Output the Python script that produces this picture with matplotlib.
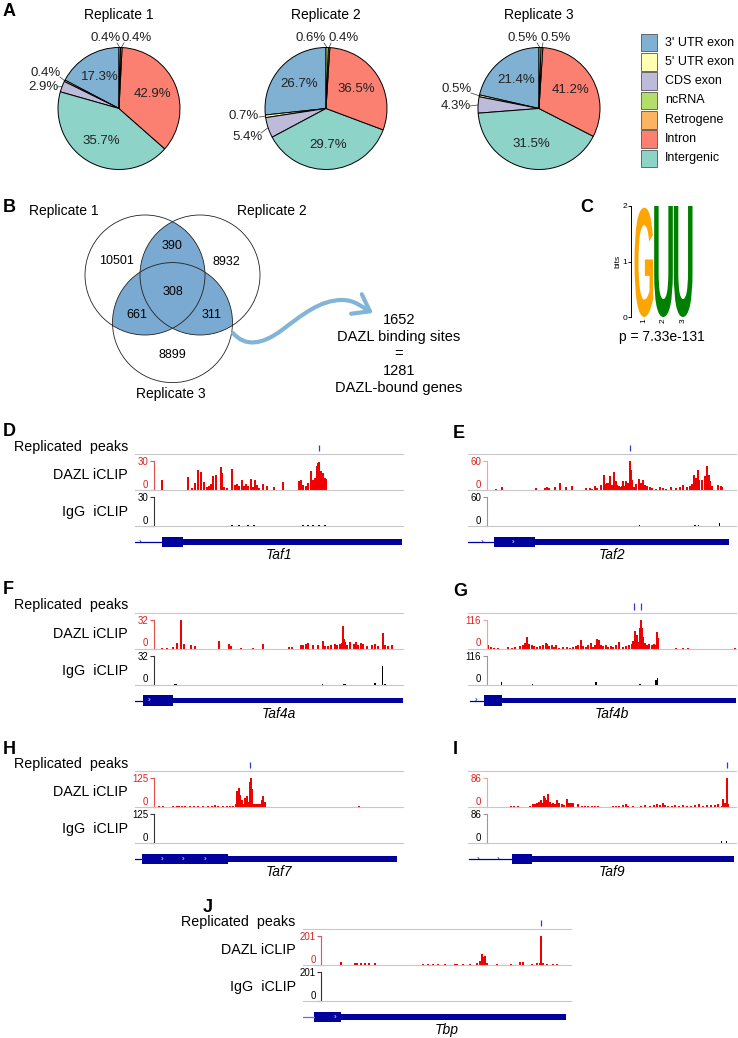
import math
import matplotlib
matplotlib.use('Agg')
import matplotlib.pyplot as plt
from matplotlib.patches import Circle, Rectangle, PathPatch, FancyArrowPatch
from matplotlib.path import Path
from matplotlib.textpath import TextPath
from matplotlib.font_manager import FontProperties
from matplotlib.transforms import Affine2D

plt.rcParams['font.family'] = ['Liberation Sans', 'DejaVu Sans']

W, H = 738, 1038

# ---------------- A: genomic distribution (percent) ----------------
categories = ["3' UTR exon", "5' UTR exon", "CDS exon", "ncRNA", "Retrogene", "Intron", "Intergenic"]
cat_colors = ['#80B1D3', '#FFFFB3', '#BEBADA', '#B3DE69', '#FDB462', '#FB8072', '#8DD3C7']
rep1_pct = [17.3, 0.4, 2.9, 0.4, 0.4, 42.9, 35.7]
rep2_pct = [26.7, 0.7, 5.4, 0.6, 0.4, 36.5, 29.7]
rep3_pct = [21.4, 0.5, 4.3, 0.5, 0.5, 41.2, 31.5]
rep_titles = ['Replicate 1', 'Replicate 2', 'Replicate 3']

# ---------------- B: overlap of binding sites ----------------
venn_names = ['Replicate 1', 'Replicate 2', 'Replicate 3']
venn_only = [10501, 8932, 8899]
venn_12, venn_13, venn_23, venn_123 = 390, 661, 311, 308
n_sites, n_genes = 1652, 1281

# ---------------- C: motif ----------------
motif_letters = ['G', 'U', 'U']
motif_bits = [1.97, 2.0, 2.0]
motif_p = '7.33e-131'

# ---------------- D-J: iCLIP tracks (x = position along locus, y = counts) ----------------
TAF1_MAX = 30
TAF1_DAZL_X = [27, 53, 57, 60, 63, 66, 69, 72, 74, 76, 78, 81, 86, 87, 89, 92, 97, 100, 102, 104,
               107, 109, 111, 113, 116, 118, 120, 122, 124, 128, 132, 139, 148, 164, 166, 168, 171, 173, 176, 178,
               180, 182, 183, 184, 186, 187, 188, 190, 191]
TAF1_DAZL_Y = [10.3, 13, 2, 7.6, 20.7, 19, 8.6, 3, 4, 6, 15, 16, 23.4, 18, 3, 2, 21.7, 5, 6, 4,
               10.3, 4, 6, 4, 11, 3.5, 10.3, 5, 2, 6, 4, 3, 8, 9.7, 10.3, 5, 4, 7, 20, 10.3,
               12, 24.8, 28.3, 29.3, 20, 13.8, 17.2, 12, 11]
TAF1_IGG_X = [97, 104, 113, 119, 168, 173, 178, 184, 190]
TAF1_IGG_Y = [1, 0.8, 0.8, 1, 0.8, 1, 0.8, 1, 1]
TAF1_PEAKS = [184]

TAF2_MAX = 60
TAF2_DAZL_X = [28, 34, 68, 77, 79, 81, 87, 92, 98, 104, 118, 122, 124, 127, 129, 133, 136, 138, 139, 141,
               142, 144, 146, 148, 149, 151, 152, 154, 155, 157, 158, 160, 161.4, 162.4, 164, 166, 168, 171, 173, 175,
               177, 179, 182, 184, 188, 192, 195, 198, 203, 208, 212, 215, 219, 222, 223.4, 225.7, 227.4, 229.4, 231,
               233.4, 236.7, 239, 240.4, 241.7, 243.4, 250, 252.4, 253.7]
TAF2_DAZL_Y = [1.4, 5.6, 3.5, 5, 7, 4, 7, 14, 7, 8.5, 3.5, 4, 3, 8.5, 3.5, 10.6, 31.8, 12.7, 15.5, 14,
               28, 10.6, 36.7, 17.6, 10.6, 8.5, 5.6, 8.5, 17.6, 8.5, 17.6, 14, 60, 41, 21, 7, 12.7, 22.6, 14, 21,
               10.6, 8.5, 5.6, 3.5, 3, 5.6, 4, 3, 5.6, 4, 7, 10, 7, 8.5, 12.7, 31.8, 24.7, 42.4, 21,
               21, 28, 49.4, 31.8, 17.6, 8.5, 10.6, 8.5, 7]
TAF2_IGG_X = [143.4, 150, 155, 160, 171, 226.7, 230, 235, 240, 251]
TAF2_IGG_Y = [1, 1, 1, 1, 1.5, 1.5, 2, 1, 1, 5.5]
TAF2_PEAKS = [161.7]

TAF4A_MAX = 32
TAF4A_DAZL_X = [27.3, 31.7, 38.3, 41.7, 45.7, 49, 55.7, 60, 84.3, 94.3, 95.7, 105.7, 118.3, 128.3, 153.7, 156.7,
                166, 168.3, 171, 173.3, 178.3, 182.7, 187.7, 190, 193.3, 195.7, 200, 202.3, 205, 206.7, 207.7, 209,
                210.3, 211.7, 215, 219, 221, 223.3, 225.7, 228.3, 231.7, 236.7, 240, 243.3, 247.7, 250, 253.3, 256.7]
TAF4A_DAZL_Y = [0.75, 1.1, 1.9, 5.6, 32, 4.5, 3.8, 3, 8.3, 4.9, 3, 0.75, 0.75, 4.5, 1.9, 1.9,
                3.8, 3.8, 4.5, 5.6, 3.8, 3.8, 8.3, 3, 2.6, 3.8, 4.9, 3.8, 4.9, 5.6, 24.5, 10,
                7.5, 3.8, 6.8, 4.9, 7.5, 3.8, 5.6, 4.9, 2.6, 4, 5, 3, 17, 4, 3, 4]
TAF4A_IGG_X = [40, 41.7, 187.7, 208.3, 210, 240, 247.3, 250]
TAF4A_IGG_Y = [0.7, 0.7, 0.7, 0.7, 0.7, 1.8, 20, 1]
TAF4A_PEAKS = []

TAF4B_MAX = 116
TAF4B_DAZL_X = [20, 22.4, 25.7, 30, 40, 43.4, 46.7, 51.7, 54.4, 57, 58.4, 61, 63.4, 65.7, 68.4, 71.7, 75, 77.4,
                79, 81, 83.4, 85.7, 87.7, 91, 95, 99, 101.7, 105, 107.7, 110, 113, 115, 117.7, 120, 122.4, 124.4,
                126.7, 128.4, 130.4, 132.4, 135, 137.7, 140, 142.4, 145, 147.7, 151, 155, 157.7, 161, 163.4, 165,
                166.7, 168.4, 170, 171.7, 172.7, 173.7, 175, 176.7, 179, 181, 183.4, 185.7, 187.7, 188.4, 189.7,
                207.7, 215, 220, 266.7]
TAF4B_DAZL_Y = [13.6, 6.8, 4, 4, 6.8, 4, 6.8, 9.5, 13.6, 20.5, 45, 16.4, 13.6, 9.5, 6.8, 11, 13.6, 23,
                16.4, 9.5, 13.6, 6.8, 13.6, 4, 6.8, 6.8, 4, 6.8, 9.5, 13.6, 34, 9.5, 6.8, 13.6, 20.5, 6.8,
                13.6, 37, 34, 13.6, 9.5, 13.6, 6.8, 9.5, 6.8, 13.6, 27.3, 6.8, 9.5, 13.6, 16.4, 31.4,
                72, 54.6, 27.3, 82, 116, 82, 45, 20.5, 13.6, 16.4, 13.6, 16.4, 13.6, 68, 41,
                4, 4, 4, 4]
TAF4B_IGG_X = [33.4, 64, 127.7, 171.7, 187.7, 189]
TAF4B_IGG_Y = [12, 3, 12, 4, 18, 26]
TAF4B_PEAKS = [166, 172.7]

TAF7_MAX = 125
TAF7_DAZL_X = [24.3, 28.3, 38.3, 41.7, 44.3, 46.7, 50, 55, 59, 63.3, 68.3, 73.3, 76.7, 80, 83.3, 87.7, 91.7, 95,
               97.7, 100.7, 102.3, 103.7, 105, 106.7, 108.3, 110, 111.7, 113.3, 115, 116, 117, 118.3, 120, 121.7,
               123.3, 125, 126.7, 128.3, 130, 224.3]
TAF7_DAZL_Y = [3, 3, 3, 6, 3, 6, 3, 3, 6, 3, 3, 6, 3, 7.6, 6, 3, 3, 4.6,
               3, 15, 68.6, 84, 53, 30.5, 15, 38, 45.7, 23, 107, 125, 76, 15, 12, 15,
               12, 15, 30.5, 48.8, 23, 4.6]
TAF7_IGG_X = [104.3, 173.3]
TAF7_IGG_Y = [1.5, 1.5]
TAF7_PEAKS = [115]

TAF9_MAX = 86
TAF9_DAZL_X = [42.4, 45.7, 50, 61.7, 64.4, 66.7, 69, 71, 72.7, 74.4, 75.7, 77, 78.4, 80, 81.7, 83.4, 85, 87, 89,
               91, 93.4, 95.7, 98.4, 100.4, 102.4, 104.4, 110, 113.4, 116.7, 120, 123.4, 126.7, 130, 144.4, 147.7,
               151, 155, 157.7, 160, 165, 172.4, 176.7, 181.7, 185.7, 189, 191.7, 194.4, 196.7, 200, 203.4, 206.7,
               211, 215, 219, 222.4, 226.7, 231, 235, 239, 242.4, 246.7, 250, 253.4, 255, 257, 258.4, 259.7]
TAF9_DAZL_Y = [4, 2, 4, 4, 8.4, 8.4, 10.5, 15.7, 21, 12.6, 31.5, 26, 21, 38.8, 15.7, 8.4, 10.5, 8.4, 21,
               10.5, 8.4, 5, 23, 10.5, 12.6, 10.5, 8.4, 4, 4, 4, 4, 3, 2, 2, 4,
               4, 5, 8.4, 4, 4, 4, 5, 4, 5, 8.4, 6.3, 10.5, 6.3, 4, 4, 5,
               4, 6.3, 4, 4, 6.3, 8.4, 4, 6.3, 5, 6.3, 8.4, 4, 24, 10.5, 86, 8.4]
TAF9_IGG_X = [78.4, 152.4, 207.7, 238.3, 253.4, 258.4]
TAF9_IGG_Y = [1, 1, 1, 1, 5, 7]
TAF9_PEAKS = [258.4]

TBP_MAX = 201
TBP_DAZL_X = [38.3, 52.3, 54.6, 58, 62.3, 66.6, 72.3, 120.6, 125.6, 130.6, 135.6, 142.3, 152.3, 154, 160.6, 167.3,
              174.6, 177.3, 179, 180.6, 182.3, 184, 194.6, 208, 217.3, 220, 229, 234, 237.3, 238.3, 240, 244.6,
              250, 254.6]
TBP_DAZL_Y = [19, 12, 12, 12, 12, 12, 12, 7, 5, 7, 5, 7, 7, 7, 5, 5,
              16.5, 28, 78, 54, 59, 16.5, 7, 7, 19, 19, 7, 12, 16.5, 201, 12, 7,
              7, 5]
TBP_IGG_X = [240]
TBP_IGG_Y = [3]
TBP_PEAKS = [238]

# gene models: (thin line start, block start, block end, bar end), chevrons in block, arrows on thin line
TAF1_MODEL = ((0, 26.7, 47.7, 267), [], [5])
TAF2_MODEL = ((0, 25.7, 66.7, 261), [44.4], [13.4])
TAF4A_MODEL = ((0, 8.3, 38.3, 268), [14], [])
TAF4B_MODEL = ((1.7, 16, 33.4, 268), [], [8])
TAF7_MODEL = ((0, 6.7, 93.3, 262), [27.3, 48.3, 70], [])
TAF9_MODEL = ((1, 43.4, 64, 265.7), [], [10, 30])
TBP_MODEL = ((0, 11.3, 38.3, 263.3), [32.3], [])

# ---------------- layout ----------------
fig = plt.figure(figsize=(W / 100, H / 100), dpi=100)
ov = fig.add_axes([0, 0, 1, 1])
ov.set_xlim(0, W)
ov.set_ylim(H, 0)
ov.axis('off')


def px_axes(x0, y0, w, h):
    return fig.add_axes([x0 / W, 1 - (y0 + h) / H, w / W, h / H])


for ch, x, y in [('A', 3, 12), ('B', 3, 207), ('C', 580, 207), ('D', 3, 432), ('E', 453, 433),
                 ('F', 3, 590), ('G', 453, 591), ('H', 3, 749), ('I', 453, 749), ('J', 203, 907)]:
    ov.text(x, y, ch, fontsize=13, fontweight='bold', ha='left', va='center')

# ---- A: pies ----
# wedges counter-clockwise from 12 o'clock; the source draws the intron and
# intergenic areas swapped relative to their printed labels, kept as drawn
color_order = [0, 1, 2, 6, 5, 4, 3]
size_order = [0, 1, 2, 5, 6, 4, 3]
PIE_Y, PIE_R = 108.5, 61
pie_cx = [119, 326, 539]
# small-slice labels: category -> (text x, text y, leader start x, leader start y)
small_labels = [
    {3: (106, 38, 117, 43), 4: (137, 38, 124, 43), 1: (46, 73, 60, 77), 2: (43, 87, 57, 87)},
    {3: (311, 38, 324, 43), 4: (344, 38, 331, 43), 1: (244, 116, 259, 117), 2: (248, 137, 261, 133)},
    {3: (523, 38, 537, 43), 4: (556, 38, 543, 43), 1: (457, 89, 471, 93), 2: (456, 106, 470, 106)},
]

for pct, cx, title, smalls in zip([rep1_pct, rep2_pct, rep3_pct], pie_cx, rep_titles, small_labels):
    pad = 3
    ax = px_axes(cx - PIE_R - pad, PIE_Y - PIE_R - pad, 2 * (PIE_R + pad), 2 * (PIE_R + pad))
    wedges, _ = ax.pie([pct[i] for i in size_order], colors=[cat_colors[i] for i in color_order],
                       startangle=90, counterclock=True, radius=1,
                       wedgeprops=dict(edgecolor='black', linewidth=0.7))
    lim = (PIE_R + pad) / PIE_R
    ax.set_xlim(-lim, lim)
    ax.set_ylim(-lim, lim)
    for k, w in enumerate(wedges):
        cat = color_order[k]
        ang = math.radians((w.theta1 + w.theta2) / 2)
        if cat in smalls:
            tx, ty, lx, ly = smalls[cat]
            ov.text(tx, ty, f'{pct[cat]:.1f}%', fontsize=9.5, ha='center', va='center', color='#222222')
            ov.plot([lx, cx + PIE_R * math.cos(ang)], [ly, PIE_Y - PIE_R * math.sin(ang)],
                    color='#333333', lw=0.5)
        else:
            ax.text(0.6 * math.cos(ang), 0.6 * math.sin(ang), f'{pct[cat]:.1f}%',
                    fontsize=9.5, ha='center', va='center', color='#222222')
    ov.text(cx, 15, title, fontsize=10, ha='center', va='center')

for i, name in enumerate(categories):
    y = 33 + 19.3 * i
    ov.add_patch(Rectangle((641, y + 0.8), 16, 17.5, facecolor=cat_colors[i], edgecolor='#555555', lw=0.6))
    ov.text(665, y + 9.5, name, fontsize=9, ha='left', va='center')

# ---- B: venn ----
VENN_R = 60
venn_c = [(145, 275), (200, 275), (172.5, 322.6)]
VENN_BLUE = '#7AAAD2'
for i, j in [(0, 1), (0, 2), (1, 2)]:
    p = Circle(venn_c[j], VENN_R, facecolor=VENN_BLUE, edgecolor='none')
    ov.add_patch(p)
    p.set_clip_path(Circle(venn_c[i], VENN_R, transform=ov.transData))
for c in venn_c:
    ov.add_patch(Circle(c, VENN_R, facecolor='none', edgecolor='#222222', lw=0.6))
c1, c2, c3 = venn_c
venn_text = [
    (c1[0] - 28, c1[1] - 14, venn_only[0]), (c2[0] + 26, c2[1] - 13, venn_only[1]),
    (c3[0], c3[1] + 32, venn_only[2]), ((c1[0] + c2[0]) / 2, c1[1] - 29, venn_12),
    ((c1[0] + c3[0]) / 2 - 22, (c1[1] + c3[1]) / 2 + 16, venn_13),
    ((c2[0] + c3[0]) / 2 + 25, (c2[1] + c3[1]) / 2 + 16, venn_23),
    ((c1[0] + c2[0] + c3[0]) / 3, (c1[1] + c2[1] + c3[1]) / 3 + 1, venn_123),
]
for x, y, v in venn_text:
    ov.text(x, y, str(v), fontsize=9, ha='center', va='center')
ov.text(64, 211, venn_names[0], fontsize=10, ha='center', va='center')
ov.text(272, 211, venn_names[1], fontsize=10, ha='center', va='center')
ov.text(171, 394, venn_names[2], fontsize=10, ha='center', va='center')

arrow_path = Path([(233, 333), (245, 347), (262, 345), (282, 330),
                   (302, 315), (320, 300), (342, 300),
                   (355, 300), (362, 307), (373, 313)],
                  [Path.MOVETO] + [Path.CURVE4] * 9)
ov.add_patch(FancyArrowPatch(path=arrow_path, arrowstyle='->,head_length=0.55,head_width=0.4',
                             mutation_scale=20, color='#82B4D7', lw=3, transform=ov.transData))
for k, line in enumerate([str(n_sites), 'DAZL binding sites', '=', str(n_genes), 'DAZL-bound genes']):
    ov.text(399, 320 + 17 * k, line, fontsize=10.5, ha='center', va='center')

# ---- C: motif logo ----
axm = px_axes(634, 206, 59, 111)
letter_colors = {'G': '#FFA500', 'U': '#008000'}
fp = FontProperties(family='Liberation Sans', weight='bold')
for i, (ch, h) in enumerate(zip(motif_letters, motif_bits)):
    tp = TextPath((0, 0), ch, size=1, prop=fp)
    bb = tp.get_extents()
    tr = Affine2D().translate(-bb.x0, -bb.y0).scale(0.95 / bb.width, h / bb.height).translate(i + 1 - 0.475, 0)
    axm.add_patch(PathPatch(tr.transform_path(tp), facecolor=letter_colors[ch], edgecolor='none'))
axm.set_xlim(0.5, 3.5)
axm.set_ylim(0, 2)
for s in ('top', 'right', 'bottom'):
    axm.spines[s].set_visible(False)
axm.spines['left'].set_position(('outward', 2))
axm.spines['left'].set_linewidth(0.7)
axm.set_yticks([0, 1, 2])
axm.set_yticklabels(['0', '1', '2'], fontsize=6)
axm.set_xticks([1, 2, 3])
axm.set_xticklabels(['1', '2', '3'], fontsize=6, rotation=90)
axm.tick_params(axis='y', length=2, width=0.7, pad=1)
axm.tick_params(axis='x', length=0, pad=1)
axm.set_ylabel('bits', fontsize=6, labelpad=1)
axm.patch.set_visible(False)
ov.text(662, 337, f'p = {motif_p}', fontsize=10, ha='center', va='center')

# ---- D-J: tracks ----
TRACK_W = 268
AXIS_X = 18.5
GENE_C = '#00009C'
panels = [
    ('Taf1', 135, 454, TAF1_MAX, TAF1_DAZL_X, TAF1_DAZL_Y, TAF1_IGG_X, TAF1_IGG_Y, TAF1_PEAKS, TAF1_MODEL, True),
    ('Taf2', 468.3, 454, TAF2_MAX, TAF2_DAZL_X, TAF2_DAZL_Y, TAF2_IGG_X, TAF2_IGG_Y, TAF2_PEAKS, TAF2_MODEL, False),
    ('Taf4a', 135, 612.5, TAF4A_MAX, TAF4A_DAZL_X, TAF4A_DAZL_Y, TAF4A_IGG_X, TAF4A_IGG_Y, TAF4A_PEAKS, TAF4A_MODEL, True),
    ('Taf4b', 468.3, 612.5, TAF4B_MAX, TAF4B_DAZL_X, TAF4B_DAZL_Y, TAF4B_IGG_X, TAF4B_IGG_Y, TAF4B_PEAKS, TAF4B_MODEL, False),
    ('Taf7', 135, 771, TAF7_MAX, TAF7_DAZL_X, TAF7_DAZL_Y, TAF7_IGG_X, TAF7_IGG_Y, TAF7_PEAKS, TAF7_MODEL, True),
    ('Taf9', 468.3, 771, TAF9_MAX, TAF9_DAZL_X, TAF9_DAZL_Y, TAF9_IGG_X, TAF9_IGG_Y, TAF9_PEAKS, TAF9_MODEL, False),
    ('Tbp', 302.7, 929, TBP_MAX, TBP_DAZL_X, TBP_DAZL_Y, TBP_IGG_X, TBP_IGG_Y, TBP_PEAKS, TBP_MODEL, True),
]


def style_track(ax, ymax, axis_color, label_color):
    ax.set_xlim(0, TRACK_W)
    ax.set_ylim(0, ymax)
    for s in ('top', 'right'):
        ax.spines[s].set_visible(False)
    ax.spines['bottom'].set_color('#C8C8C8')
    ax.spines['bottom'].set_linewidth(0.8)
    ax.spines['left'].set_position(('data', AXIS_X))
    ax.spines['left'].set_color(axis_color)
    ax.spines['left'].set_linewidth(0.8)
    ax.set_yticks([0, ymax])
    labels = ax.set_yticklabels(['0', str(ymax)], fontsize=7, color=label_color)
    labels[0].set_va('bottom')
    ax.tick_params(axis='y', length=3, width=0.8, color=axis_color, pad=1)
    ax.set_xticks([])
    ax.patch.set_visible(False)


for gene, x0, top, ymax, dx, dy, ix, iy, peaks, model, left_labels in panels:
    right_col = x0 > 400
    # replicated peaks row
    axp = px_axes(x0, top - 14, TRACK_W, 14)
    axp.vlines(peaks, 0.2, 0.65, color='#3A3AC8', lw=0.9)
    axp.set_xlim(0, TRACK_W)
    axp.set_ylim(0, 1)
    for s in ('top', 'right', 'left'):
        axp.spines[s].set_visible(False)
    axp.spines['bottom'].set_color('#C8C8C8')
    axp.spines['bottom'].set_linewidth(0.8)
    axp.set_xticks([])
    axp.set_yticks([])
    axp.patch.set_visible(False)

    axd = px_axes(x0, top + 7, TRACK_W, 29)
    axd.bar(dx, dy, width=1.8, color='#F00000', linewidth=0)
    style_track(axd, ymax, '#F4A0A0' if right_col else '#E85050', '#E02020')

    axi = px_axes(x0, top + 43, TRACK_W, 29)
    axi.bar(ix, iy, width=1.4, color='black', linewidth=0)
    style_track(axi, ymax, '#999999' if right_col else '#333333', 'black')

    (t0, b0, b1, e1), chevrons, arrows = model
    axg = px_axes(x0, top + 80, TRACK_W, 16)
    axg.set_xlim(0, TRACK_W)
    axg.set_ylim(-1, 1)
    axg.axis('off')
    axg.plot([t0, b0], [0, 0], color=GENE_C if gene != 'Tbp' else '#6A6AD8', lw=0.9)
    axg.add_patch(Rectangle((b0, -0.68), b1 - b0, 1.36, facecolor=GENE_C, edgecolor='none'))
    axg.add_patch(Rectangle((b1, -0.36), e1 - b1, 0.72, facecolor=GENE_C, edgecolor='none'))
    for c in chevrons:
        axg.text(c, -0.05, '\u203a', color='white', fontsize=6, ha='center', va='center')
    for a in arrows:
        axg.text(a, -0.05, '\u203a', color=GENE_C, fontsize=6, ha='center', va='center')
    ov.text(x0 + 144, top + 101, gene, fontsize=10, style='italic', ha='center', va='center')

    if left_labels:
        ov.text(x0 - 7, top - 7, 'Replicated  peaks', fontsize=10.3, ha='right', va='center')
        ov.text(x0 - 7, top + 21, 'DAZL iCLIP', fontsize=10.3, ha='right', va='center')
        ov.text(x0 - 7, top + 58, 'IgG  iCLIP', fontsize=10.3, ha='right', va='center')

fig.savefig('out.png', dpi=100)
